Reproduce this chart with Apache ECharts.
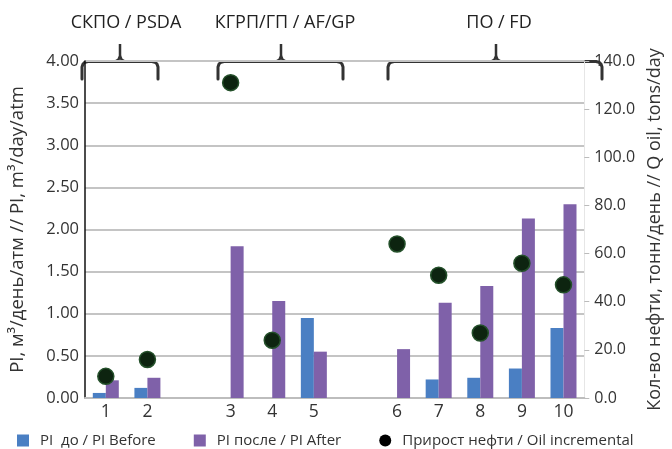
<!DOCTYPE html>
<html>
<head>
<meta charset="utf-8">
<script src="https://cdn.jsdelivr.net/npm/echarts@6/dist/echarts.min.js"></script>
<style>
html,body{margin:0;padding:0;background:#fff;}
#chart{width:672px;height:449px;}
</style>
</head>
<body>
<div id="chart"></div>
<script>
var categories = ['1', '2', '', '3', '4', '5', '', '6', '7', '8', '9', '10'];
var piBefore = [0.06, 0.12, null, 0, 0, 0.95, null, 0, 0.22, 0.24, 0.35, 0.83];
var piAfter = [0.21, 0.24, null, 1.80, 1.15, 0.55, null, 0.58, 1.13, 1.33, 2.13, 2.30];
var oilIncrement = [9, 16, null, 131, 24, null, null, 64, 51, 27, 56, 47];
var leftTicks = ['0.00', '0.50', '1.00', '1.50', '2.00', '2.50', '3.00', '3.50', '4.00'];
var rightTicks = ['0.0', '20.0', '40.0', '60.0', '80.0', '100.0', '120.0', '140.0'];
var groupLabels = ['СКПО / PSDA', 'КГРП/ГП / AF/GP', 'ПО / FD'];
var seriesNames = ['PI  до / PI Before', 'PI после / PI After', 'Прирост нефти / Oil incremental'];

var FONT = '"Open Sans", "Noto Sans", sans-serif';
var chart = echarts.init(document.getElementById('chart'));

function bracket(x1, x2, cx) {
  var y = 61.5, yb = 79, yt = 44;
  var st = {stroke: '#333', lineWidth: 3, fill: null, lineJoin: 'round', lineCap: 'round'};
  return [
    {type: 'polyline', silent: true, shape: {points: [[x1, yb], [x1, 67], [x1 + 1, 64], [x1 + 3, 62.2], [x1 + 6, y], [x2 - 6, y], [x2 - 3, 62.2], [x2 - 1, 64], [x2, 67], [x2, yb]]}, style: st},
    {type: 'polyline', silent: true, shape: {points: [[cx - 5, y], [cx - 1.5, 59.5], [cx, 56], [cx, yt]]}, style: {stroke: '#333', lineWidth: 2.5, fill: null, lineJoin: 'round'}},
    {type: 'polyline', silent: true, shape: {points: [[cx + 5, y], [cx + 1.5, 59.5], [cx, 56]]}, style: {stroke: '#333', lineWidth: 2.5, fill: null, lineJoin: 'round'}}
  ];
}

function groupText(x, s) {
  return {type: 'text', x: x, y: 23, silent: true,
    style: {text: s, font: '18px ' + FONT, fill: '#222', align: 'center', verticalAlign: 'middle'}};
}

var graphics = [].concat(
  bracket(82, 158, 120),
  bracket(218, 343, 281),
  bracket(388, 602, 496),
  [groupText(126, groupLabels[0]), groupText(285, groupLabels[1]), groupText(499, groupLabels[2])]
);

var option = {
  animation: false,
  backgroundColor: '#fff',
  textStyle: {fontFamily: FONT},
  grid: {left: 78, right: 72, top: 61, bottom: 51},
  legend: {
    left: 12, top: 428,
    itemWidth: 12, itemHeight: 12, itemGap: 38,
    textStyle: {fontSize: 15, color: '#333', fontFamily: FONT, padding: [0, 0, 0, 6]},
    data: [
      {name: seriesNames[0], icon: 'rect'},
      {name: seriesNames[1], icon: 'rect'},
      {name: seriesNames[2], icon: 'circle', itemStyle: {color: '#000', borderWidth: 0}}
    ]
  },
  xAxis: {
    type: 'category',
    data: categories,
    axisLine: {show: true, lineStyle: {color: '#bdbdbd', width: 2}},
    axisTick: {show: false},
    axisLabel: {fontSize: 17.5, color: '#333', margin: 5, interval: 0}
  },
  yAxis: [
    {
      type: 'value', min: 0, max: 4, interval: 0.5,
      name: 'PI, м³/день/атм // PI, m³/day/atm',
      nameLocation: 'middle', nameRotate: 90, nameGap: 58,
      nameTextStyle: {fontSize: 18.5, color: '#333'},
      axisLine: {show: true, lineStyle: {color: '#111', width: 1.5}},
      axisTick: {show: false},
      axisLabel: {fontSize: 16.5, color: '#333', margin: 6,
        formatter: function (v) { return leftTicks[Math.round(v / 0.5)]; }},
      splitLine: {show: true, lineStyle: {color: '#c4c4c4', width: 2}}
    },
    {
      type: 'value', min: 0, max: 140, interval: 20,
      name: 'Кол-во нефти, тонн/день // Q oil, tons/day',
      nameLocation: 'middle', nameRotate: 90, nameGap: 58,
      nameTextStyle: {fontSize: 18, color: '#333'},
      axisLine: {show: true, lineStyle: {color: '#e6e6e6', width: 1}},
      axisTick: {show: true, length: 5, lineStyle: {color: '#bbb'}},
      axisLabel: {fontSize: 16, color: '#333', margin: 10,
        formatter: function (v) { return rightTicks[Math.round(v / 20)]; }},
      splitLine: {show: false}
    }
  ],
  series: [
    {
      name: seriesNames[0], type: 'bar', data: piBefore,
      barWidth: 13, barGap: '0%',
      itemStyle: {color: '#4a7fc3'}
    },
    {
      name: seriesNames[1], type: 'bar', data: piAfter,
      barWidth: 13, barGap: '0%',
      itemStyle: {color: '#7f61a9'}
    },
    {
      name: seriesNames[2], type: 'scatter', yAxisIndex: 1, data: oilIncrement,
      symbolSize: 16,
      itemStyle: {color: '#0d2410', borderColor: '#24502a', borderWidth: 1.5, opacity: 1},
      z: 5
    }
  ],
  graphic: graphics
};
chart.setOption(option);
</script>
</body>
</html>
